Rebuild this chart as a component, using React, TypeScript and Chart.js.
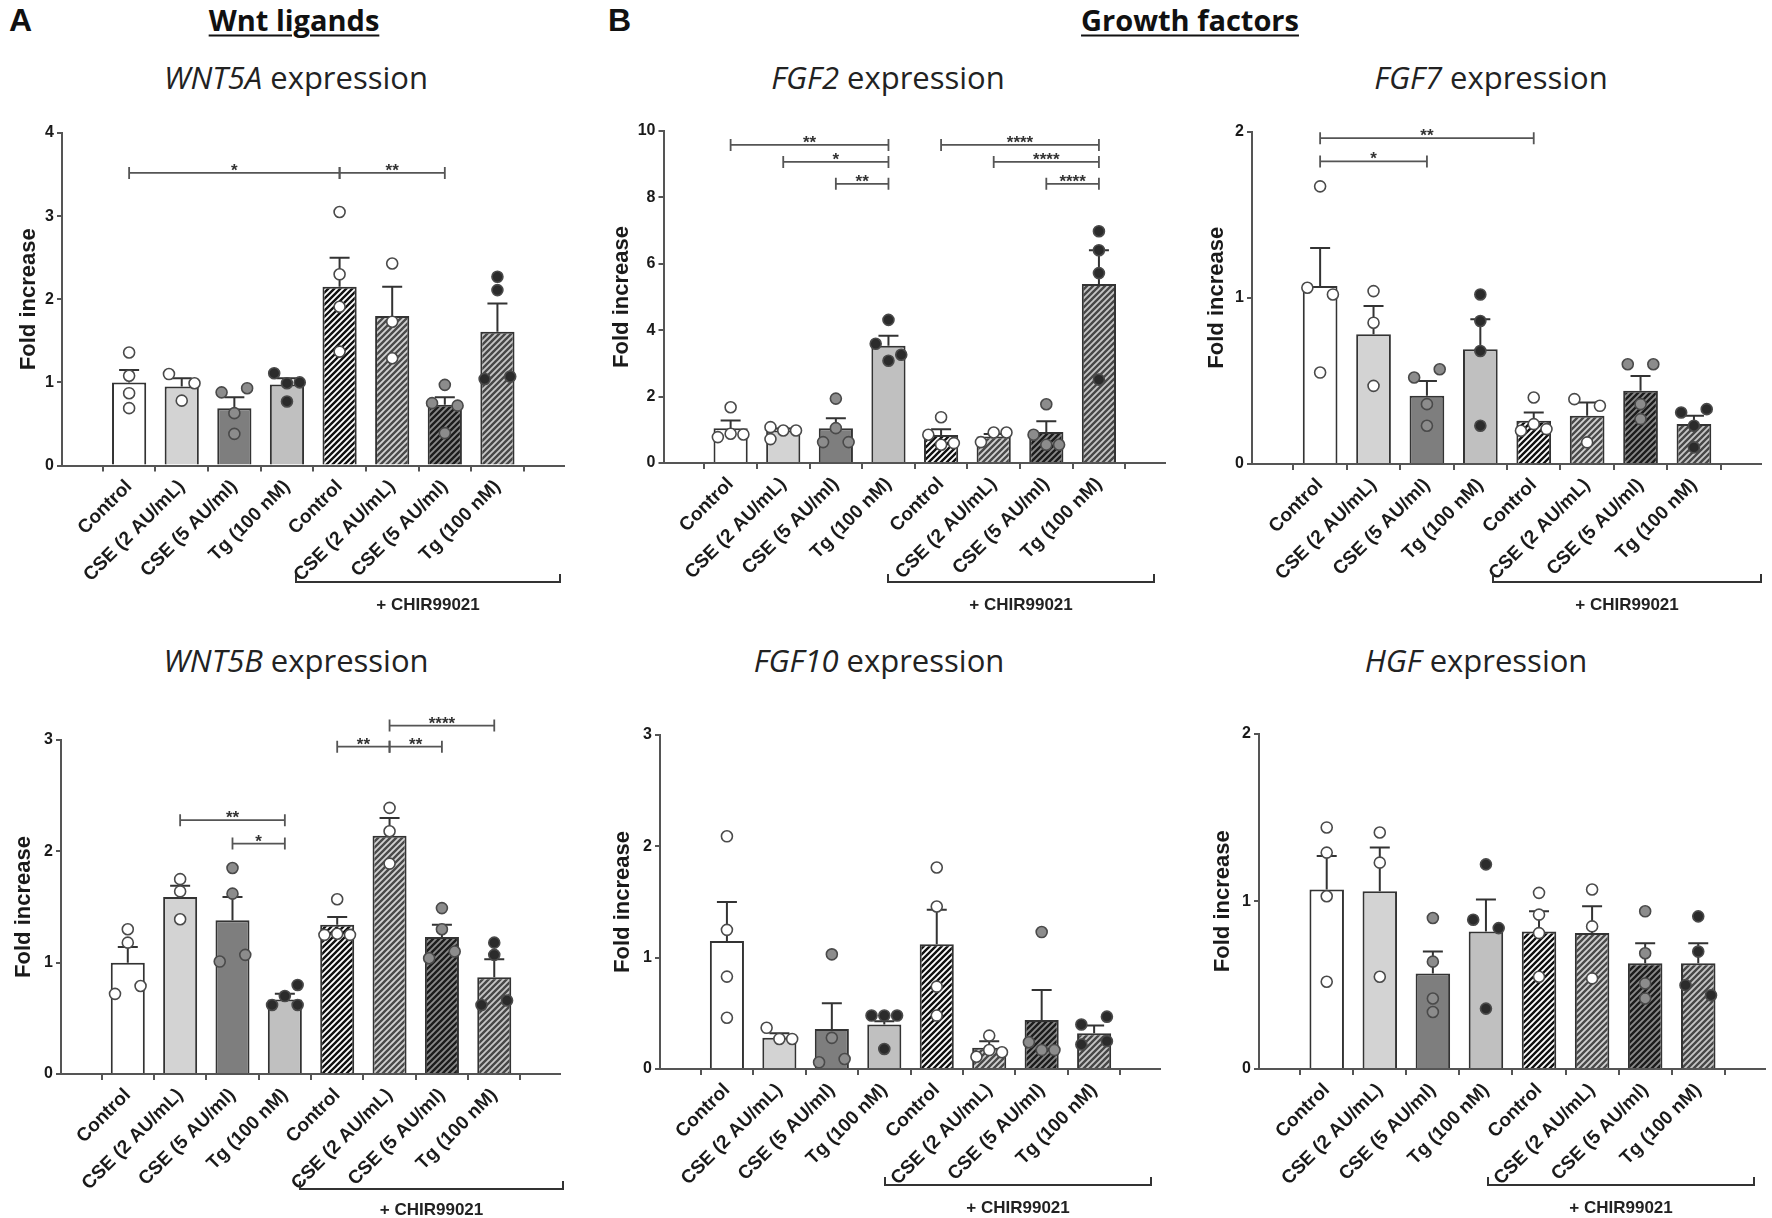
import React, { useEffect, useRef } from 'react';
import Chart from 'chart.js/auto';

const FONT = '"Liberation Sans", Arial, sans-serif';
const TITLE_FONT = '"Open Sans", "DejaVu Sans", sans-serif';

const groups = [
  'Control', 'CSE (2 AU/mL)', 'CSE (5 AU/ml)', 'Tg (100 nM)',
  'Control', 'CSE (2 AU/mL)', 'CSE (5 AU/ml)', 'Tg (100 nM)',
];
const chirLabel = '+ CHIR99021';

// sig rows: [from group, to group, stars, bracket height]
type Sig = [number, number, string, number];

// WNT5A
const wnt5aMean = [1.0, 0.95, 0.69, 0.975, 2.15, 1.8, 0.73, 1.61];
const wnt5aSem = [0.15, 0.1, 0.13, 0.075, 0.35, 0.35, 0.09, 0.34];
const wnt5aPoints = [
  [1.36, 1.08, 0.87, 0.69],
  [1.1, 0.99, 0.78],
  [0.88, 0.93, 0.63, 0.38],
  [1.11, 0.99, 1.0, 0.77],
  [3.05, 2.3, 1.91, 1.37],
  [2.43, 1.73, 1.29],
  [0.97, 0.75, 0.72, 0.39],
  [2.27, 2.11, 1.04, 1.07],
];
const wnt5aSig: Sig[] = [[0, 4, '*', 3.52], [4, 6, '**', 3.52]];

// FGF2
const fgf2Mean = [1.05, 0.98, 1.05, 3.53, 0.84, 0.8, 0.93, 5.39];
const fgf2Sem = [0.23, 0.06, 0.3, 0.3, 0.18, 0.07, 0.33, 1.02];
const fgf2Points = [
  [1.68, 0.78, 0.88, 0.86],
  [1.08, 0.98, 0.98, 0.72],
  [1.94, 1.05, 0.63, 0.63],
  [4.31, 3.59, 3.08, 3.26],
  [1.38, 0.85, 0.55, 0.6],
  [0.63, 0.92, 0.92],
  [1.77, 0.85, 0.55, 0.55],
  [6.98, 6.41, 5.72, 2.51],
];
const fgf2Sig: Sig[] = [
  [0, 3, '**', 9.58], [1, 3, '*', 9.07], [2, 3, '**', 8.41],
  [4, 7, '****', 9.58], [5, 7, '****', 9.07], [6, 7, '****', 8.41],
];

// FGF7
const fgf7Mean = [1.07, 0.78, 0.41, 0.69, 0.26, 0.29, 0.44, 0.24];
const fgf7Sem = [0.23, 0.17, 0.09, 0.18, 0.05, 0.08, 0.09, 0.05];
const fgf7Points = [
  [1.67, 1.06, 1.02, 0.55],
  [1.04, 0.85, 0.47],
  [0.52, 0.57, 0.36, 0.23],
  [1.02, 0.86, 0.68, 0.23],
  [0.4, 0.2, 0.24, 0.21],
  [0.39, 0.35, 0.13],
  [0.6, 0.6, 0.36, 0.27],
  [0.31, 0.33, 0.23, 0.1],
];
const fgf7Sig: Sig[] = [[0, 4, '**', 1.96], [0, 2, '*', 1.82]];

// WNT5B
const wnt5bMean = [1.0, 1.59, 1.38, 0.67, 1.34, 2.14, 1.23, 0.87];
const wnt5bSem = [0.14, 0.1, 0.21, 0.05, 0.07, 0.16, 0.11, 0.16];
const wnt5bPoints = [
  [1.3, 1.18, 0.72, 0.79],
  [1.75, 1.64, 1.39],
  [1.85, 1.62, 1.01, 1.07],
  [0.62, 0.7, 0.8, 0.62],
  [1.57, 1.25, 1.26, 1.25],
  [2.39, 2.18, 1.89],
  [1.49, 1.3, 1.04, 1.1],
  [1.18, 1.07, 0.62, 0.66],
];
const wnt5bSig: Sig[] = [
  [1, 3, '**', 2.28], [2, 3, '*', 2.07],
  [4, 5, '**', 2.94], [5, 6, '**', 2.94], [5, 7, '****', 3.13],
];

// FGF10
const fgf10Mean = [1.15, 0.28, 0.36, 0.4, 1.12, 0.19, 0.44, 0.32];
const fgf10Sem = [0.35, 0.04, 0.23, 0.03, 0.31, 0.06, 0.27, 0.07];
const fgf10Points = [
  [2.09, 1.25, 0.83, 0.46],
  [0.37, 0.27, 0.27],
  [1.03, 0.28, 0.06, 0.09],
  [0.48, 0.48, 0.48, 0.18],
  [1.81, 1.46, 0.74, 0.48],
  [0.3, 0.11, 0.17, 0.15],
  [1.23, 0.24, 0.17, 0.17],
  [0.4, 0.47, 0.22, 0.25],
];
const fgf10Sig: Sig[] = [];

// HGF
const hgfMean = [1.07, 1.06, 0.57, 0.82, 0.82, 0.81, 0.63, 0.63];
const hgfSem = [0.2, 0.26, 0.13, 0.19, 0.12, 0.16, 0.12, 0.12];
const hgfPoints = [
  [1.44, 1.29, 1.03, 0.52],
  [1.41, 1.23, 0.55],
  [0.9, 0.64, 0.42, 0.34],
  [1.22, 0.89, 0.84, 0.36],
  [1.05, 0.92, 0.81, 0.55],
  [1.07, 0.85, 0.54],
  [0.94, 0.69, 0.51, 0.42],
  [0.91, 0.7, 0.5, 0.44],
];
const hgfSig: Sig[] = [];

// styling
const X_MIN = -0.68;
const X_MAX = 7.66;
const plainFill = ['#ffffff', '#d3d3d3', '#7e7e7e', '#c0c0c0'];
const hatchFill = [['#ffffff', '#111111'], ['#d2d2d2', '#4a4a4a'], ['#8a8a8a', '#1c1c1c'], ['#c6c6c6', '#474747']];
const dotFill = ['#ffffff', '#ffffff', '#8c8c8c', '#2b2b2b'];

interface Layout {
  left: number; top: number; width: number; height: number;
  axisLeft: number; axisRight: number; axisTop: number; axisBottom: number;
  titleX: number; titleY: number; yTitleGap: number;
  chir: [number, number]; chirY: number; chirTextY: number;
}

interface PanelSpec {
  gene: string;
  yMax: number;
  yStep: number;
  mean: number[];
  sem: number[];
  points: number[][];
  sig: Sig[];
  layout: Layout;
}

const topRow = { top: 95, height: 525, titleY: 77, chirY: 582, chirTextY: 605 };
const bottomRow = { top: 700, height: 518, titleY: 660, chirY: 1185, chirTextY: 1208 };

const panels: PanelSpec[] = [
  {
    gene: 'WNT5A', yMax: 4, yStep: 1, mean: wnt5aMean, sem: wnt5aSem, points: wnt5aPoints, sig: wnt5aSig,
    layout: { ...topRow, left: 0, width: 580, axisLeft: 62, axisRight: 563.5, axisTop: 133, axisBottom: 465.5, titleX: 296, yTitleGap: 33, chir: [296, 560] },
  },
  {
    gene: 'FGF2', yMax: 10, yStep: 2, mean: fgf2Mean, sem: fgf2Sem, points: fgf2Points, sig: fgf2Sig,
    layout: { ...topRow, left: 600, width: 580, axisLeft: 663.5, axisRight: 1165, axisTop: 131, axisBottom: 463, titleX: 888, yTitleGap: 42, chir: [888, 1154] },
  },
  {
    gene: 'FGF7', yMax: 2, yStep: 1, mean: fgf7Mean, sem: fgf7Sem, points: fgf7Points, sig: fgf7Sig,
    layout: { ...topRow, left: 1180, width: 592, axisLeft: 1252, axisRight: 1761, axisTop: 131.5, axisBottom: 464, titleX: 1491, yTitleGap: 35.5, chir: [1493, 1761] },
  },
  {
    gene: 'WNT5B', yMax: 3, yStep: 1, mean: wnt5bMean, sem: wnt5bSem, points: wnt5bPoints, sig: wnt5bSig,
    layout: { ...bottomRow, chirY: 1189, chirTextY: 1210, left: 0, width: 580, axisLeft: 61, axisRight: 560, axisTop: 740, axisBottom: 1074, titleX: 296, yTitleGap: 37, chir: [300, 563] },
  },
  {
    gene: 'FGF10', yMax: 3, yStep: 1, mean: fgf10Mean, sem: fgf10Sem, points: fgf10Points, sig: fgf10Sig,
    layout: { ...bottomRow, left: 600, width: 580, axisLeft: 660, axisRight: 1160, axisTop: 735, axisBottom: 1069, titleX: 879, yTitleGap: 37, chir: [885, 1151] },
  },
  {
    gene: 'HGF', yMax: 2, yStep: 1, mean: hgfMean, sem: hgfSem, points: hgfPoints, sig: hgfSig,
    layout: { ...bottomRow, left: 1180, width: 592, axisLeft: 1259, axisRight: 1766, axisTop: 733.5, axisBottom: 1069, titleX: 1476, yTitleGap: 36, chir: [1488, 1754] },
  },
];

function stripes(bg: string, fg: string): CanvasPattern | string {
  const s = 6;
  const c = document.createElement('canvas');
  c.width = s;
  c.height = s;
  const g = c.getContext('2d');
  if (!g) return bg;
  g.fillStyle = bg;
  g.fillRect(0, 0, s, s);
  g.strokeStyle = fg;
  g.lineWidth = 2.4;
  g.beginPath();
  g.moveTo(-1, s + 1); g.lineTo(s + 1, -1);
  g.moveTo(-1, 1); g.lineTo(1, -1);
  g.moveTo(s - 1, s + 1); g.lineTo(s + 1, s - 1);
  g.stroke();
  return g.createPattern(c, 'repeat') || bg;
}

// GraphPad-like spreading: points closer than `gap` sit side by side (max 3 per row)
function spreadLanes(vals: number[], gap: number): number[] {
  const order = vals.map((_, i) => i).sort((a, b) => vals[b] - vals[a]);
  const rows: number[][] = [];
  let cur: number[] = [];
  let prev = Infinity;
  for (const i of order) {
    if (cur.length && (prev - vals[i] >= gap || cur.length === 3)) {
      rows.push(cur);
      cur = [];
    }
    cur.push(i);
    prev = vals[i];
  }
  if (cur.length) rows.push(cur);

  const lanes = new Array(vals.length).fill(0);
  const placed: { lane: number; v: number }[] = [];
  for (const row of rows) {
    const ids = [...row].sort((a, b) => a - b);
    let set = ids.length === 2 ? [-1, 1] : [-1, 0, 1];
    if (ids.length === 1) {
      const v = vals[ids[0]];
      let best = 0;
      let bestDist = -1;
      for (const cand of [0, -1, 1]) {
        const d = Math.min(Infinity, ...placed.filter(p => p.lane === cand).map(p => Math.abs(p.v - v)));
        if (d >= gap) { best = cand; bestDist = Infinity; break; }
        if (d > bestDist) { bestDist = d; best = cand; }
      }
      set = [best];
    }
    ids.forEach((id, k) => {
      lanes[id] = set[k];
      placed.push({ lane: set[k], v: vals[id] });
    });
  }
  return lanes;
}

const Panel: React.FC<{ spec: PanelSpec }> = ({ spec }) => {
  const canvasRef = useRef<HTMLCanvasElement>(null);
  const L = spec.layout;

  useEffect(() => {
    if (!canvasRef.current) return;
    const yW = L.axisLeft - L.left;
    const xH = L.top + L.height - L.axisBottom;
    const pxPerX = (L.axisRight - L.axisLeft) / (X_MAX - X_MIN);
    const pxPerY = (L.axisBottom - L.axisTop) / spec.yMax;
    const laneStep = 14.6 / pxPerX;

    const fills = groups.map((_, i) =>
      i < 4 ? plainFill[i] : stripes(hatchFill[i - 4][0], hatchFill[i - 4][1]));

    const dots: { x: number; y: number }[] = [];
    const dotColors: string[] = [];
    spec.points.forEach((vals, g) => {
      const lanes = spreadLanes(vals, 12 / pxPerY);
      vals.forEach((v, k) => {
        dots.push({ x: g + lanes[k] * laneStep, y: v });
        dotColors.push(dotFill[g % 4]);
      });
    });

    const errorBars = {
      id: 'errorBars',
      afterDatasetDraw(chart: any, args: any) {
        if (args.index !== 0) return;
        const { ctx } = chart;
        const y = chart.scales.y;
        ctx.save();
        ctx.strokeStyle = '#333';
        ctx.lineWidth = 2;
        args.meta.data.forEach((bar: any, i: number) => {
          const top = y.getPixelForValue(spec.mean[i]);
          const cap = y.getPixelForValue(spec.mean[i] + spec.sem[i]);
          ctx.beginPath();
          ctx.moveTo(bar.x, top);
          ctx.lineTo(bar.x, cap);
          ctx.moveTo(bar.x - 10, cap);
          ctx.lineTo(bar.x + 10, cap);
          ctx.stroke();
        });
        ctx.restore();
      },
    };

    const annotations = {
      id: 'annotations',
      afterDraw(chart: any) {
        const { ctx } = chart;
        const { x, y } = chart.scales;
        ctx.save();
        ctx.strokeStyle = '#555';
        ctx.lineWidth = 1.8;
        ctx.fillStyle = '#333';
        ctx.textAlign = 'center';
        ctx.textBaseline = 'alphabetic';
        ctx.font = `bold 17px ${FONT}`;
        for (const [a, b, label, level] of spec.sig) {
          const x0 = x.getPixelForValue(a);
          const x1 = x.getPixelForValue(b);
          const yy = y.getPixelForValue(level);
          ctx.beginPath();
          ctx.moveTo(x0, yy); ctx.lineTo(x1, yy);
          ctx.moveTo(x0, yy - 6); ctx.lineTo(x0, yy + 6);
          ctx.moveTo(x1, yy - 6); ctx.lineTo(x1, yy + 6);
          ctx.stroke();
          ctx.fillText(label, (x0 + x1) / 2, yy + 3);
        }
        // + CHIR99021 bracket
        const bx0 = L.chir[0] - L.left;
        const bx1 = L.chir[1] - L.left;
        const by = L.chirY - L.top;
        ctx.strokeStyle = '#333';
        ctx.lineWidth = 2;
        ctx.beginPath();
        ctx.moveTo(bx0, by - 8); ctx.lineTo(bx0, by);
        ctx.lineTo(bx1, by); ctx.lineTo(bx1, by - 8);
        ctx.stroke();
        ctx.font = `bold 17px ${FONT}`;
        ctx.fillStyle = '#222';
        ctx.textBaseline = 'middle';
        ctx.fillText(chirLabel, (bx0 + bx1) / 2, L.chirTextY - L.top);
        ctx.restore();
      },
    };

    const chart = new Chart(canvasRef.current, {
      type: 'bar',
      data: {
        datasets: [
          {
            type: 'bar',
            data: spec.mean.map((m, i) => ({ x: i, y: m })),
            backgroundColor: fills as any,
            borderColor: '#333',
            borderWidth: 2,
            barPercentage: 0.65,
            categoryPercentage: 1,
            order: 2,
          },
          {
            type: 'scatter',
            data: dots,
            pointRadius: 5.5,
            pointBackgroundColor: dotColors,
            pointBorderColor: '#4a4a4a',
            pointBorderWidth: 1.6,
            showLine: false,
            order: 1,
          } as any,
        ],
      },
      options: {
        responsive: false,
        animation: false,
        events: [],
        layout: { padding: { top: L.axisTop - L.top, right: L.left + L.width - L.axisRight, left: 0, bottom: 0 } },
        plugins: { legend: { display: false }, tooltip: { enabled: false } },
        scales: {
          x: {
            type: 'linear',
            min: X_MIN,
            max: X_MAX,
            afterBuildTicks: (scale: any) => {
              scale.ticks = groups.map((_, i) => ({ value: i }));
            },
            afterFit: (scale: any) => {
              scale.height = xH;
              scale.paddingLeft = 0;
              scale.paddingRight = 0;
            },
            ticks: {
              autoSkip: false,
              minRotation: 45,
              maxRotation: 45,
              padding: 4,
              color: '#1a1a1a',
              font: { family: FONT, size: 19, weight: 'bold' },
              callback: (_v: any, i: number) => groups[i],
            },
            grid: { drawOnChartArea: false, drawTicks: true, tickLength: 6, color: '#555', lineWidth: 2 },
            border: { color: '#555', width: 2 },
          },
          y: {
            min: 0,
            max: spec.yMax,
            afterFit: (scale: any) => {
              scale.width = yW;
              scale.paddingTop = 0;
              scale.paddingBottom = 0;
            },
            ticks: {
              stepSize: spec.yStep,
              padding: 3,
              color: '#1a1a1a',
              font: { family: FONT, size: 16, weight: 'bold' },
            },
            grid: { drawOnChartArea: false, drawTicks: true, tickLength: 5, color: '#555', lineWidth: 2 },
            border: { color: '#555', width: 2 },
            title: {
              display: true,
              text: 'Fold increase',
              color: '#1a1a1a',
              font: { family: FONT, size: 22, weight: 'bold' },
              padding: { top: yW - L.yTitleGap - 13.2, bottom: 0 },
            },
          },
        },
      } as any,
      plugins: [errorBars, annotations],
    });

    return () => {
      chart.destroy();
    };
  }, [spec]);

  return (
    <>
      <div
        style={{
          position: 'absolute', left: L.titleX, top: L.titleY, transform: 'translate(-50%, -50%)',
          fontFamily: TITLE_FONT, fontSize: 31, color: '#222', whiteSpace: 'nowrap', lineHeight: 1,
        }}
      >
        <i>{spec.gene}</i> expression
      </div>
      <canvas
        ref={canvasRef}
        width={L.width}
        height={L.height}
        style={{ position: 'absolute', left: L.left, top: L.top }}
      />
    </>
  );
};

const headStyle = (x: number): React.CSSProperties => ({
  position: 'absolute', left: x, top: 19, transform: 'translate(-50%, -50%)',
  fontFamily: TITLE_FONT, fontWeight: 'bold', fontSize: 29, color: '#111', whiteSpace: 'nowrap',
  textDecoration: 'underline', textDecorationThickness: 2, textUnderlineOffset: 4, lineHeight: 1,
});

const letterStyle = (x: number): React.CSSProperties => ({
  position: 'absolute', left: x, top: 4, fontFamily: FONT, fontWeight: 'bold', fontSize: 32, color: '#111', lineHeight: 1,
});

export default function App() {
  return (
    <div style={{ position: 'absolute', left: 0, top: 0, width: 1772, height: 1218, background: '#fff', overflow: 'hidden' }}>
      <div style={letterStyle(9)}>A</div>
      <div style={letterStyle(608)}>B</div>
      <div style={headStyle(294)}>Wnt ligands</div>
      <div style={headStyle(1190)}>Growth factors</div>
      {panels.map(p => <Panel key={p.gene} spec={p} />)}
    </div>
  );
}
